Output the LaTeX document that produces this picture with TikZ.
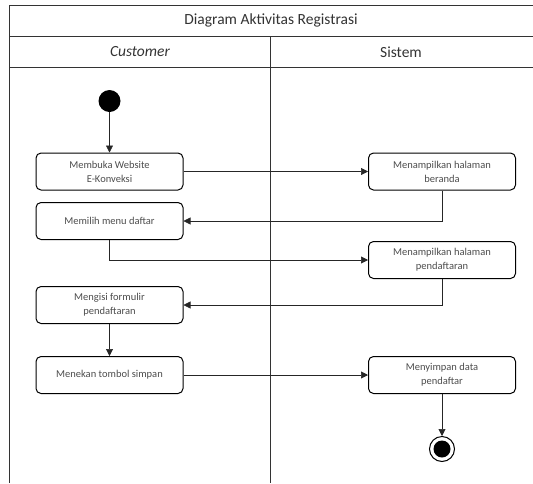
\documentclass[tikz,border=0pt]{standalone}
\usepackage{fontspec}
\setmainfont{Carlito}
\usetikzlibrary{arrows.meta}
\begin{document}
\begin{tikzpicture}[x=1pt,y=-1pt]
  \tikzset{activity/.style={draw,rounded corners=5pt,minimum width=147pt,minimum height=37pt,
      inner sep=2pt,align=center,font=\fontsize{10.5}{14}\selectfont,text=black!70,line width=1pt},
    flow/.style={draw,-{Triangle[length=7pt,width=7pt]},line width=0.6pt,black!85},
    lane/.style={draw,line width=1pt,black!80},
    heading/.style={font=\fontsize{15.5}{18}\selectfont,text=black!80}}
  \useasboundingbox (0,0) rectangle (533,483);
  % swimlane frame
  \draw[lane] (533,5) -- (9,5) -- (9,483);
  \draw[lane] (9,36) -- (533,36);
  \draw[lane] (9,67) -- (533,67);
  \draw[lane] (270,36) -- (270,483);
  \node[heading] (title) at (271,20) {Diagram Aktivitas Registrasi};
  \node[heading] (cust) at (140,52) {\itshape Customer};
  \node[heading] (sys) at (401,52) {Sistem};
  % activities
  \node[circle,fill,inner sep=0,minimum size=22pt] (start) at (109.5,101) {};
  \node[activity] (buka) at (109.5,171.5) {Membuka Website\\E-Konveksi};
  \node[activity] (menu) at (109.5,221) {Memilih menu daftar};
  \node[activity] (isi) at (109.5,305) {Mengisi formulir\\pendaftaran};
  \node[activity] (simpan) at (109.5,375) {Menekan tombol simpan};
  \node[activity] (beranda) at (442,171.5) {Menampilkan halaman\\beranda};
  \node[activity] (daftar) at (442,260) {Menampilkan halaman\\pendaftaran};
  \node[activity] (data) at (442,375) {Menyimpan data\\pendaftar};
  \node[circle,draw,line width=1pt,inner sep=0,minimum size=25pt,
    path picture={\fill (path picture bounding box.center) circle (8.5pt);}] (stop) at (442,449) {};
  % flows
  \draw[flow] (start) -- (buka);
  \draw[flow] (buka) -- (beranda);
  \draw[flow] (beranda.south) |- (menu.east);
  \draw[flow] (menu.south) |- (daftar.west);
  \draw[flow] (daftar.south) |- (isi.east);
  \draw[flow] (isi) -- (simpan);
  \draw[flow] (simpan) -- (data);
  \draw[flow] (data) -- (stop);
\end{tikzpicture}
\end{document}
